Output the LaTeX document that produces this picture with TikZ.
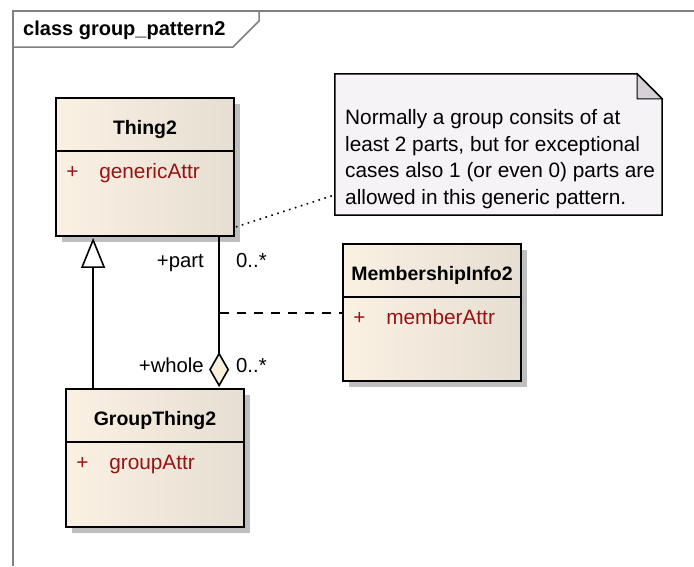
\documentclass[tikz,border=0pt]{standalone}
\usepackage{fontspec}
\setmainfont{Liberation Sans}
\usetikzlibrary{arrows.meta,shadows,calc}
\definecolor{clsL}{RGB}{250,241,227}
\definecolor{clsR}{RGB}{230,222,210}
\definecolor{attrred}{RGB}{150,20,20}
\definecolor{notefill}{RGB}{246,243,247}
\definecolor{foldfill}{RGB}{214,209,217}
\definecolor{framegray}{RGB}{128,128,128}
\definecolor{diafill}{RGB}{250,240,222}
\begin{document}
\begin{tikzpicture}[x=1pt,y=-1pt,
  classbox/.style={draw=black, line width=1.8pt, left color=clsL, right color=clsR,
    minimum width=178pt, minimum height=138pt, inner sep=0pt,
    drop shadow={shadow xshift=6pt, shadow yshift=-6pt, fill=black!25, opacity=1}},
  clsname/.style={font=\fontsize{19.5}{23}\selectfont\bfseries, inner sep=0pt, anchor=base},
  attrtxt/.style={font=\fontsize{20.8}{24}\selectfont, text=attrred, inner sep=0pt, anchor=base west},
  lbl/.style={font=\fontsize{20.3}{24}\selectfont, inner sep=0pt},
  notetxt/.style={font=\fontsize{20.8}{24}\selectfont, inner sep=0pt, anchor=base west},
  conn/.style={line width=1.6pt, black},
  sep/.style={line width=1.8pt, black}]
\useasboundingbox (0,0) rectangle (694,566);
% frame
\draw[framegray, line width=2pt] (13,566) -- (13,11) -- (694,11);
\draw[framegray, line width=1.5pt] (13,47) -- (233,47) -- (259,21) -- (259,11);
\node[font=\fontsize{20}{24}\selectfont\bfseries, inner sep=0pt, anchor=base west] (title) at (23,35) {class group\_pattern2};

% classes
\node[classbox] (thing) at (145,167) {};
\node[classbox, minimum height=137pt] (member) at (432,312.5) {};
\node[classbox] (group) at (155,458) {};

\foreach \c/\n/\a in {thing/Thing2/genericAttr, member/MembershipInfo2/memberAttr, group/GroupThing2/groupAttr}{
  \node[clsname] (\c-name) at ($(\c.north)+(0,37)$) {\n};
  \draw[sep] ($(\c.north west)+(0,54)$) -- ($(\c.north east)+(0,54)$);
  \node[attrtxt] (\c-plus) at ($(\c.north west)+(11,81)$) {+};
  \node[attrtxt] (\c-attr) at ($(\c.north west)+(44,81)$) {\a};
}

% note
\node[minimum width=327pt, minimum height=141pt, inner sep=0pt] (note) at (498.5,144.5) {};
\draw[line width=1.5pt, fill=notefill] (note.north west) -- ($(note.north east)+(-25,0)$) -- ($(note.north east)+(0,25)$) -- (note.south east) -- (note.south west) -- cycle;
\draw[line width=1pt, fill=foldfill] ($(note.north east)+(-25,0)$) -- ($(note.north east)+(0,25)$) -- ($(note.north east)+(-25,25)$) -- cycle;
\draw[line width=1.5pt] ($(note.north east)+(-25,0)$) -- ($(note.north east)+(0,25)$);
\node[notetxt] (n1) at (345,124) {Normally a group consits of at};
\node[notetxt] (n2) at (345,151) {least 2 parts, but for exceptional};
\node[notetxt] (n3) at (345,177) {cases also 1 (or even 0) parts are};
\node[notetxt] (n4) at (345,204) {allowed in this generic pattern.};

% note link
\draw[conn, dash pattern=on 1.6pt off 4.6pt] ($(thing.south east)+(1,-10)$) -- ($(note.south west)+(-1,-20)$);

% generalization
\draw[conn, -{Triangle[open, length=30pt, width=24pt, fill=white]}] ($(group.north west)+(28,0)$) -- ($(thing.south west)+(38,1)$);

% aggregation
\draw[conn, -{Diamond[length=35pt, width=20pt, fill=diafill]}] ($(thing.south west)+(164,0)$) -- ($(group.north west)+(154,-1)$);
\coordinate (mid) at (220,313);
\draw[conn, dash pattern=on 9pt off 8pt] (mid) -- (member.west |- mid);

% role labels
\node[lbl, anchor=base east] (rpart) at (204,267) {+part};
\node[lbl, anchor=base west] (mpart) at (236,267) {0..*};
\node[lbl, anchor=base east] (rwhole) at (204,372) {+whole};
\node[lbl, anchor=base west] (mwhole) at (236,372) {0..*};
\end{tikzpicture}
\end{document}
